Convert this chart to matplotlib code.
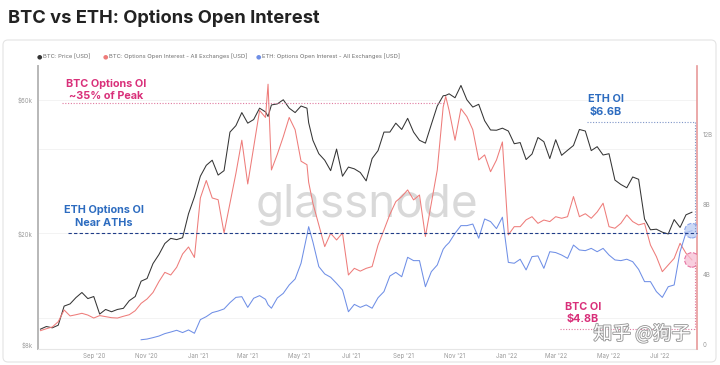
import pandas as pd
import matplotlib.pyplot as plt
import matplotlib.patheffects as pe
from matplotlib.lines import Line2D
from matplotlib.patches import FancyBboxPatch

plt.rcParams['font.family'] = ['Inter', 'DejaVu Sans']

# weekly samples (Mondays)
start_date = '2020-06-29'
eth_start_date = '2020-10-26'

btc_price = [
    9100, 9300, 9200, 9400, 11000, 11200, 11800, 12300, 11700, 11900,
    10300, 10700, 10500, 10700, 10800, 11500, 11900, 13500, 13800, 15600,
    16800, 18400, 19200, 19000, 19300, 23500, 27000, 32000, 35000, 36500,
    32300, 33500, 46000, 48500, 54000, 49500, 51000, 56000, 54300, 57500,
    58000, 60000, 56000, 54000, 57000, 56000, 43000, 38500, 36500, 33500,
    40000, 32000, 34500, 34000, 33000, 30800, 37000, 39500, 46000, 46000,
    49500, 47000, 51500, 46000, 43000, 42000, 49000, 57000, 62000, 63000,
    61000, 67500, 60000, 56500, 57800, 50500, 46800, 46700, 47500, 46400,
    41800, 42200, 36700, 38400, 44000, 42500, 37000, 43200, 38000, 39600,
    41200, 47000, 46400, 39500, 40800, 38100, 38500, 31000, 29900, 29100,
    31800, 31200, 22500, 20600, 20700, 20200, 19900, 22400, 21000, 23300,
    23800,
]

# $ billions
btc_oi = [
    0.82, 0.93, 1.03, 1.33, 2.0, 1.66, 1.73, 1.81, 1.71, 1.54,
    1.68, 1.62, 1.56, 1.54, 1.64, 1.73, 1.96, 2.38, 2.63, 3.0,
    3.62, 4.15, 4.0, 4.44, 5.2, 5.6, 5.0, 8.4, 9.4, 8.4,
    8.3, 6.4, 8.1, 9.8, 11.7, 9.2, 11.3, 13.4, 13.0, 10.0,
    10.9, 11.9, 13.0, 12.3, 10.5, 10.3, 8.1, 6.86, 5.62, 6.38,
    6.0, 6.4, 4.0, 4.38, 4.22, 4.38, 4.48, 5.71, 6.57, 7.46,
    8.19, 8.48, 8.86, 8.29, 8.57, 6.2, 8.1, 10.0, 13.6, 13.4,
    11.7, 13.5, 13.05, 12.3, 10.57, 10.86, 9.9, 10.57, 11.6, 6.29,
    6.76, 6.76, 7.15, 7.33, 6.95, 7.14, 7.05, 7.33, 7.24, 7.33,
    8.48, 7.33, 7.5, 7.24, 7.6, 8.1, 6.76, 6.67, 6.95, 7.43,
    7.05, 6.86, 6.95, 5.71, 5.05, 4.19, 4.57, 4.95, 5.81, 5.24,
    4.86,
]

eth_oi = [
    0.30, 0.34, 0.42, 0.51, 0.65, 0.74, 0.84, 0.71, 0.86, 0.67,
    1.45, 1.62, 1.85, 1.94, 2.06, 2.42, 2.72, 2.76, 2.15, 2.67,
    2.82, 2.61, 2.1, 2.69, 2.95, 3.43, 3.77, 4.67, 6.27, 5.89,
    4.48, 4.06, 3.87, 3.52, 3.14, 1.90, 2.32, 2.15, 2.29, 2.1,
    2.70, 3.05, 3.94, 4.15, 3.9, 5.01, 4.82, 4.82, 3.33, 4.19,
    4.57, 5.47, 5.85, 6.38, 6.82, 6.82, 6.91, 6.1, 7.2, 7.05,
    6.65, 7.3, 4.72, 4.67, 4.9, 4.29, 5.05, 5.09, 4.38, 5.33,
    5.28, 5.14, 4.95, 5.71, 5.43, 5.39, 5.52, 5.33, 5.52, 5.14,
    4.86, 4.82, 4.9, 4.76, 4.32, 3.62, 3.62, 3.05, 2.72, 3.33,
    3.43, 5.33, 6.42, 6.53,
]

# a few peaks that fall between the weekly samples
extra_dates = ['2021-03-25', '2021-05-12', '2021-10-21']
extra_btc = [52300, 49700, 62200]
extra_btc_oi = [14.9, 9.3, 14.2]
extra_eth_oi = [2.3, 6.76, 5.66]

tick_dates = pd.date_range('2020-09-01', '2022-07-01', freq='2MS')

btc = pd.DataFrame({'price': btc_price, 'oi': btc_oi},
                   index=pd.date_range(start_date, periods=len(btc_price), freq='7D'))
btc = pd.concat([btc, pd.DataFrame({'price': extra_btc, 'oi': extra_btc_oi},
                                   index=pd.to_datetime(extra_dates))]).sort_index()
eth = pd.Series(eth_oi, index=pd.date_range(eth_start_date, periods=len(eth_oi), freq='7D'))
eth = pd.concat([eth, pd.Series(extra_eth_oi, index=pd.to_datetime(extra_dates))]).sort_index()

c_black = '#353535'
c_red = '#ee7c7a'
c_blue = '#6f8fe6'
c_pink = '#d9307a'
c_tblue = '#2d6cc0'


def fx(x):
    return x / 720


def fy(y):
    return 1 - y / 365


fig = plt.figure(figsize=(7.2, 3.65), dpi=100)
fig.patch.set_facecolor('white')

fig.add_artist(FancyBboxPatch((0.03, 0.03), 7.13, 3.22, boxstyle='round,pad=0,rounding_size=0.05',
                              transform=fig.dpi_scale_trans, facecolor='white',
                              edgecolor='#e4e4e4', lw=0.8, zorder=-5))

fig.text(fx(8), fy(18), 'BTC vs ETH: Options Open Interest', fontsize=13.2,
         weight='bold', color='#222222', va='center')

# legend
legend_items = [('BTC: Price [USD]', c_black, 39),
                ('BTC: Options Open Interest - All Exchanges [USD]', c_red, 105),
                ('ETH: Options Open Interest - All Exchanges [USD]', c_blue, 258)]
for label, col, x in legend_items:
    fig.text(fx(x), fy(56.5), '\u25cf', color=col, fontsize=4.5, va='center', ha='center',
             family='DejaVu Sans')
    fig.text(fx(x + 4), fy(56.5), label, color='#707070', fontsize=4.2, va='center')

top, bottom = 66, 349
ax = fig.add_axes([fx(38), fy(bottom), (697 - 38) / 720, (bottom - top) / 365])
ax.set_zorder(1)
ax.patch.set_visible(False)
ax2 = ax.twinx()

ax.plot(btc.index, btc['price'], color=c_black, lw=0.75, zorder=2)
ax.set_yscale('log')
ax.set_ylim(7730, 79200)
ax.set_yticks([8000, 20000, 60000])
ax.set_yticklabels(['$8k', '$20k', '$60k'])
ax.minorticks_off()
for g in [10000, 20000, 40000, 60000]:
    ax.axhline(g, color='#f1f1f1', lw=0.6, zorder=0)

ax2.plot(btc.index, btc['oi'], color=c_red, lw=0.75)
ax2.plot(eth.index, eth.values, color=c_blue, lw=0.75)
ax2.set_ylim(-0.229, 15.94)
ax2.set_yticks([0, 4, 8, 12])
ax2.set_yticklabels(['0', '4B', '8B', '12B'])

x0 = pd.Timestamp('2020-09-01')
ax.set_xlim(x0 - pd.Timedelta(days=66.9), x0 + pd.Timedelta(days=712))
ax.set_xticks(tick_dates)
ax.set_xticklabels([d.strftime("%b '%y") for d in tick_dates])

for a in (ax, ax2):
    a.tick_params(length=0, labelsize=4.4, labelcolor='#9a9a9a', pad=4)
    a.spines['top'].set_visible(False)
ax.tick_params(axis='x', pad=3)
ax.spines['left'].set_color('#b8b8b8')
ax.spines['left'].set_linewidth(1.4)
ax.spines['bottom'].set_color('#e6e6e6')
ax.spines['right'].set_visible(False)
ax2.spines['left'].set_visible(False)
ax2.spines['bottom'].set_visible(False)
ax2.spines['right'].set_color('#e79a9a')
ax2.spines['right'].set_linewidth(1.2)

# watermark
ax.text(fx(367), fy(205), 'glassnode', transform=fig.transFigure, fontsize=33,
        color='#d9d9d9', ha='center', va='center', zorder=0.5)


def hline(x1, x2, y, col, ls):
    fig.add_artist(Line2D([fx(x1), fx(x2)], [fy(y), fy(y)], transform=fig.transFigure,
                          color=col, lw=0.8, linestyle=ls, zorder=5))


def vline(x, y1, y2, col, ls):
    fig.add_artist(Line2D([fx(x), fx(x)], [fy(y1), fy(y2)], transform=fig.transFigure,
                          color=col, lw=0.8, linestyle=ls, zorder=5))


hline(62, 445, 103, '#e07aa0', (0, (1, 1.5)))
hline(68, 697, 233, '#1f3c88', (0, (3, 2)))
hline(587, 695, 122, '#7f95c8', (0, (1, 1.5)))
vline(695, 122, 232, '#7f95c8', (0, (1, 1.5)))
hline(560, 695, 329, '#e07aa0', (0, (1, 1.5)))
vline(695, 262, 329, '#e07aa0', (0, (1, 1.5)))

ax2.scatter([eth.index[-1]], [eth.values[-1]], s=110, facecolor='#b9cbf3', alpha=0.75,
            edgecolor=c_blue, linestyle='--', lw=0.8, zorder=6)
ax2.scatter([btc.index[-1]], [btc['oi'].iloc[-1]], s=110, facecolor='#f6bed3', alpha=0.75,
            edgecolor='#e0508a', linestyle='--', lw=0.8, zorder=6)

kw = dict(weight='bold', fontsize=7.8, ha='center', va='center', linespacing=1.3)
fig.text(fx(106), fy(90), 'BTC Options OI\n~35% of Peak', color=c_pink, **kw)
fig.text(fx(104), fy(216.5), 'ETH Options OI\nNear ATHs', color=c_tblue, **kw)
fig.text(fx(606), fy(105.5), 'ETH OI\n$6.6B', color=c_tblue, **kw)
fig.text(fx(583), fy(313), 'BTC OI\n$4.8B', color=c_pink, **kw)

fig.text(fx(642), fy(334), '知乎 @狗子', fontsize=13.5, color='white', ha='center', va='center',
         family=['Noto Sans CJK SC', 'DejaVu Sans'], zorder=10,
         path_effects=[pe.withStroke(linewidth=1.3, foreground='#9a9a9a')])

fig.savefig('out.png', dpi=100)
